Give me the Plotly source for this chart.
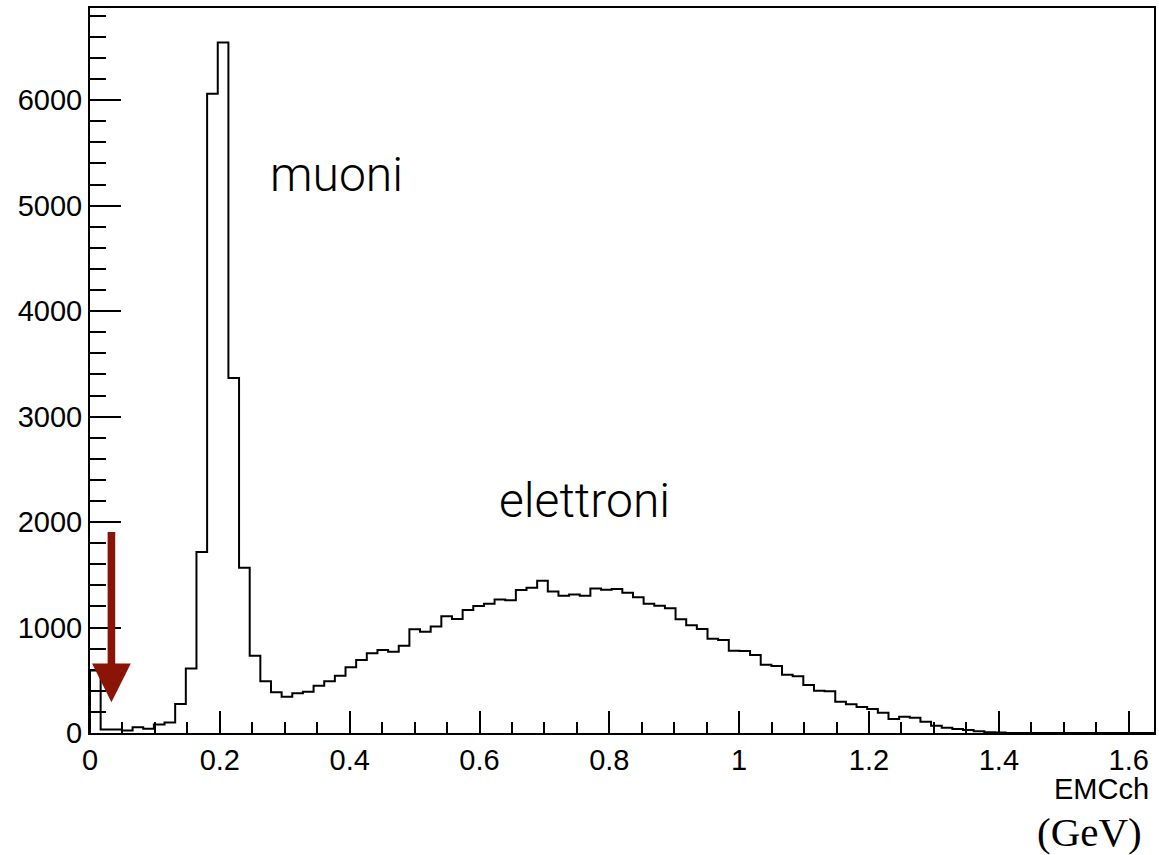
import plotly.graph_objects as go

# ---- data ----
X_MIN = 0.0
X_MAX = 1.64
N_BINS = 100
counts = [
    592, 33, 33, 24, 55, 40, 80, 100, 275, 612,
    1716, 6062, 6547, 3367, 1566, 733, 490, 386, 344, 376,
    392, 449, 490, 543, 623, 692, 755, 787, 771, 828,
    983, 960, 1011, 1106, 1081, 1166, 1204, 1226, 1267, 1258,
    1355, 1377, 1444, 1342, 1302, 1314, 1302, 1371, 1358, 1365,
    1330, 1286, 1226, 1207, 1182, 1078, 1021, 986, 894, 882,
    780, 777, 739, 648, 635, 553, 537, 455, 401, 397,
    297, 272, 246, 227, 193, 133, 155, 145, 107, 69,
    50, 38, 28, 16, 8, 4, 0, 0, 0, 0,
    0, 0, 0, 0, 0, 0, 0, 0, 0, 0,
]
x_tick_vals = [0, 0.2, 0.4, 0.6, 0.8, 1.0, 1.2, 1.4, 1.6]
x_tick_text = ["0", "0.2", "0.4", "0.6", "0.8", "1", "1.2", "1.4", "1.6"]
y_tick_vals = [0, 1000, 2000, 3000, 4000, 5000, 6000]
y_tick_text = ["0", "1000", "2000", "3000", "4000", "5000", "6000"]

labels = [("muoni", 0.2736, 5292), ("elettroni", 0.6265, 2203)]
arrow_x, arrow_top, arrow_tip = 0.033, 1920, 292
x_title = "EMCch"
unit_text = "(GeV)"

# ---- step outline (ROOT style) ----
width = (X_MAX - X_MIN) / N_BINS
edges = [X_MIN + i * width for i in range(N_BINS + 1)]
xs = [edges[0]] + edges[:-1] + [edges[-1], edges[-1]]
ys = [0] + counts + [counts[-1], 0]

y_max = max(counts) * 1.05

fig = go.Figure()
fig.add_trace(go.Scatter(
    x=xs, y=ys, mode="lines", line=dict(color="black", width=2, shape="hv"),
    hoverinfo="skip", showlegend=False,
))

axis_font = dict(family="Liberation Sans, Arial, Helvetica", size=29, color="black")

fig.update_layout(
    width=1159, height=855,
    margin=dict(l=90, r=3, t=8, b=122),
    paper_bgcolor="white", plot_bgcolor="white",
    showlegend=False,
    xaxis=dict(
        range=[X_MIN, 1.639], showgrid=False, zeroline=False,
        showline=True, linecolor="black", linewidth=2, mirror=True,
        ticks="inside", ticklen=22, tickwidth=1.5, tickcolor="black",
        tickvals=x_tick_vals, ticktext=x_tick_text, tickfont=axis_font,
        minor=dict(dtick=0.05, tick0=0, ticks="inside", ticklen=11, tickwidth=1.5, tickcolor="black"),
    ),
    yaxis=dict(
        range=[0, y_max], showgrid=False, zeroline=False,
        showline=True, linecolor="black", linewidth=2, mirror=True,
        ticks="inside", ticklen=31, tickwidth=1.5, tickcolor="black",
        tickvals=y_tick_vals, ticktext=y_tick_text, tickfont=axis_font,
        minor=dict(dtick=200, tick0=0, ticks="inside", ticklen=16, tickwidth=1.5, tickcolor="black"),
    ),
)

for text, lx, ly in labels:
    fig.add_annotation(
        x=lx, y=ly, xref="x", yref="y", text=text, showarrow=False,
        xanchor="left", yanchor="middle",
        font=dict(family="Roboto, Liberation Sans, Arial", size=48, color="black", weight=300),
    )

fig.add_annotation(
    x=arrow_x, y=arrow_tip, ax=arrow_x, ay=arrow_top, xref="x", yref="y",
    axref="x", ayref="y", text="", showarrow=True,
    arrowhead=2, arrowsize=1.02, arrowwidth=7.6, arrowcolor="#8a1406",
)

fig.add_annotation(
    x=1, y=0, xref="paper", yref="paper", text=x_title, showarrow=False,
    xanchor="right", yanchor="top", xshift=-3, yshift=-38,
    font=dict(family="Liberation Sans, Arial, Helvetica", size=29, color="black"),
)
fig.add_annotation(
    x=1, y=0, xref="paper", yref="paper", text=unit_text, showarrow=False,
    xanchor="right", yanchor="top", xshift=-10, yshift=-74,
    font=dict(family="Liberation Serif, Times New Roman, serif", size=41, color="black"),
)

fig.write_html("out.html")
